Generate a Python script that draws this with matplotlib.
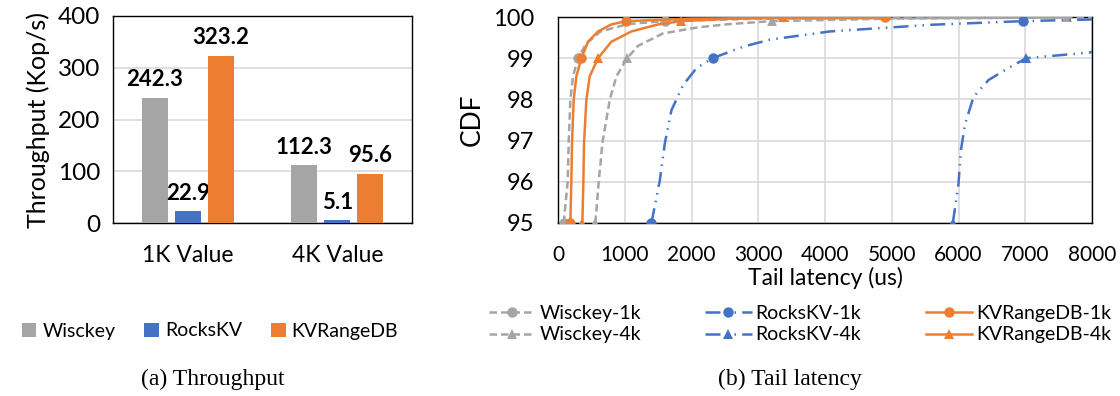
import matplotlib
matplotlib.use("Agg")
import matplotlib.pyplot as plt
from matplotlib.patches import Patch

# ---------------- data ----------------
categories = ["1K Value", "4K Value"]
systems = ["Wisckey", "RocksKV", "KVRangeDB"]
throughput = {
    "Wisckey": [242.3, 112.3],
    "RocksKV": [22.9, 5.1],
    "KVRangeDB": [323.2, 95.6],
}
y_ticks_left = [0, 100, 200, 300, 400]

wisckey_1k_x = [85, 145, 160, 185, 225, 300, 420, 640, 1050, 1600, 3000, 8600]
wisckey_1k_y = [95, 96, 96.94, 97.99, 98.56, 99, 99.35, 99.65, 99.83, 99.9, 99.96, 99.99]
wisckey_1k_marks = [0, 5, 9, 11]

wisckey_4k_x = [560, 610, 665, 775, 875, 1035, 1200, 1570, 2100, 2580, 3200, 5000, 7630]
wisckey_4k_y = [95, 96, 96.94, 97.99, 98.56, 99, 99.3, 99.6, 99.75, 99.83, 99.9, 99.96, 99.99]
wisckey_4k_marks = [0, 5, 10, 12]

rockskv_1k_x = [1400, 1525, 1600, 1700, 1875, 2075, 2315, 2775, 3175, 4075, 5575, 6965, 8000, 9500]
rockskv_1k_y = [95, 96.03, 96.93, 97.74, 98.35, 98.76, 99.0, 99.28, 99.45, 99.65, 99.81, 99.9, 99.94, 99.99]
rockskv_1k_marks = [0, 6, 11, 13]

rockskv_4k_x = [5915, 6000, 6035, 6100, 6225, 6450, 6725, 7015, 7975, 9000, 10500]
rockskv_4k_y = [95, 95.95, 96.76, 97.41, 98.06, 98.47, 98.74, 99.0, 99.14, 99.9, 99.99]
rockskv_4k_marks = [0, 7, 9, 10]

kvr_1k_x = [185, 200, 210, 235, 275, 350, 450, 600, 800, 1025, 2000, 4900]
kvr_1k_y = [95, 96, 96.94, 97.99, 98.56, 99, 99.4, 99.65, 99.82, 99.9, 99.96, 99.99]
kvr_1k_marks = [0, 5, 9, 11]

kvr_4k_x = [365, 380, 390, 425, 475, 600, 800, 1100, 1500, 1850, 2600, 3370]
kvr_4k_y = [95, 96, 96.94, 97.99, 98.56, 99, 99.4, 99.65, 99.82, 99.9, 99.96, 99.99]
kvr_4k_marks = [0, 5, 9, 11]

x_ticks_right = [0, 1000, 2000, 3000, 4000, 5000, 6000, 7000, 8000]
y_ticks_right = [95, 96, 97, 98, 99, 100]

# ---------------- style ----------------
GREY = "#A5A5A5"
BLUE = "#4472C4"
ORANGE = "#ED7D31"
GRID = "#D9D9D9"
colors = {"Wisckey": GREY, "RocksKV": BLUE, "KVRangeDB": ORANGE}
SANS = ["Lato", "DejaVu Sans"]
SERIF = ["Liberation Serif", "DejaVu Serif"]
plt.rcParams["font.family"] = SANS

W, H = 1120, 396
fig = plt.figure(figsize=(W / 100, H / 100), dpi=100)

def ax_rect(x0, y0, x1, y1):
    return [x0 / W, 1 - y1 / H, (x1 - x0) / W, (y1 - y0) / H]

# ---------------- left: throughput ----------------
axL = fig.add_axes(ax_rect(113, 16, 412, 223))
bw = 0.175
step = 0.22
for i, s in enumerate(systems):
    xs = [c + (i - 1) * step for c in range(len(categories))]
    axL.bar(xs, throughput[s], width=bw, color=colors[s], zorder=3, label=s)
    for x, v in zip(xs, throughput[s]):
        axL.text(x, v + 14, f"{v}", ha="center", va="bottom", fontsize=16,
                 fontweight="bold", color="black")
axL.set_xlim(-0.5, 1.5)
axL.set_ylim(0, 400)
axL.set_yticks(y_ticks_left)
axL.set_xticks(range(len(categories)))
axL.set_xticklabels(categories)
axL.tick_params(axis="y", length=0, labelsize=17.5, pad=9)
axL.tick_params(axis="x", length=0, labelsize=16.5, pad=16)
axL.yaxis.grid(True, color=GRID, lw=1.2, zorder=0)
for sp in axL.spines.values():
    sp.set_color("black")
    sp.set_linewidth(1.0)
axL.set_ylabel("Throughput (Kop/s)", fontsize=18, labelpad=6)

handlesL = [Patch(facecolor=colors[s], edgecolor="none") for s in systems]
fig.legend(handlesL, systems, loc="center", bbox_to_anchor=(210 / W, 1 - 331 / H),
           ncol=3, frameon=False, fontsize=14, handlelength=0.75, handleheight=0.75,
           handletextpad=0.3, columnspacing=1.5)
fig.text(213 / W, 1 - 379 / H, "(a) Throughput", ha="center", va="center",
         fontsize=17, family=SERIF)

# ---------------- right: CDF ----------------
axR = fig.add_axes(ax_rect(558, 17, 1092, 223))
lw = 1.8
dash_grey = (0, (3.0, 1.6))
dashdot_blue = (0, (6, 2.5, 0.6, 2.5, 0.6, 2.5))
ms = 7.5
series = [
    ("Wisckey-1k", wisckey_1k_x, wisckey_1k_y, wisckey_1k_marks, GREY, dash_grey, "o"),
    ("Wisckey-4k", wisckey_4k_x, wisckey_4k_y, wisckey_4k_marks, GREY, dash_grey, "^"),
    ("RocksKV-1k", rockskv_1k_x, rockskv_1k_y, rockskv_1k_marks, BLUE, dashdot_blue, "o"),
    ("RocksKV-4k", rockskv_4k_x, rockskv_4k_y, rockskv_4k_marks, BLUE, dashdot_blue, "^"),
    ("KVRangeDB-1k", kvr_1k_x, kvr_1k_y, kvr_1k_marks, ORANGE, "-", "o"),
    ("KVRangeDB-4k", kvr_4k_x, kvr_4k_y, kvr_4k_marks, ORANGE, "-", "^"),
]
handlesR = []
for name, xs, ys, mk, c, ls, m in series:
    ln, = axR.plot(xs, ys, color=c, lw=lw, linestyle=ls, marker=m, markevery=mk,
                   markersize=ms, markeredgewidth=0, zorder=3, label=name)
    handlesR.append(ln)
axR.set_xlim(0, 8000)
axR.set_ylim(95, 100)
axR.set_xticks(x_ticks_right)
axR.set_yticks(y_ticks_right)
axR.tick_params(axis="x", length=0, labelsize=15, pad=16)
axR.tick_params(axis="y", length=0, labelsize=17, pad=17)
axR.grid(True, color=GRID, lw=1.2, zorder=0)
for sp in axR.spines.values():
    sp.set_color("black")
    sp.set_linewidth(1.0)
axR.set_ylabel("CDF", fontsize=19, labelpad=6)
axR.set_xlabel("Tail latency (us)", fontsize=16.5, labelpad=1)

fig.legend(handlesR, [s[0] for s in series], loc="center",
           bbox_to_anchor=(800 / W, 1 - 324 / H), ncol=3, frameon=False,
           fontsize=14, handlelength=2.4, handletextpad=0.2, columnspacing=3.3,
           labelspacing=0.25)
fig.text(790 / W, 1 - 379 / H, "(b) Tail latency", ha="center", va="center",
         fontsize=17, family=SERIF)

fig.savefig("out.png", dpi=100, bbox_inches=None)
